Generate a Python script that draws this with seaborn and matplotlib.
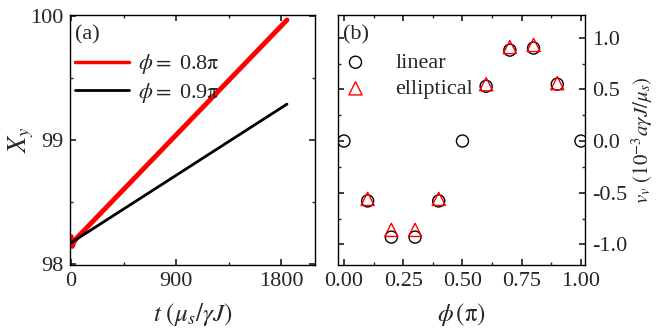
#!/usr/bin/env python3
import numpy as np
import pandas as pd
import seaborn as sns
import matplotlib.pyplot as plt
from matplotlib.ticker import MultipleLocator
from matplotlib.lines import Line2D

# panel (a): X_y vs t
t_08 = [0, 10, 25, 50, 1850]
xy_08 = [98.22, 98.14, 98.18, 98.21, 99.97]
t_09 = [0, 1850]
xy_09 = [98.17, 99.29]

# panel (b): velocity vs phi
phi_lin = [0.0, 0.1, 0.2, 0.3, 0.4, 0.5, 0.6, 0.7, 0.8, 0.9, 1.0]
v_lin = [0.0, -0.58, -0.93, -0.93, -0.58, 0.0, 0.53, 0.88, 0.90, 0.55, 0.0]
phi_ell = [0.1, 0.2, 0.3, 0.4, 0.6, 0.7, 0.8, 0.9]
v_ell = [-0.56, -0.86, -0.86, -0.56, 0.55, 0.91, 0.93, 0.56]

sns.set_theme(style="ticks")
plt.rcParams["font.family"] = ["Liberation Serif", "DejaVu Serif"]
plt.rcParams["mathtext.fontset"] = "stix"
plt.rcParams["axes.unicode_minus"] = False
plt.rcParams["font.size"] = 16

fig = plt.figure(figsize=(6.56, 3.33), dpi=100)
ax1 = fig.add_axes([70 / 656, 68 / 333, 245 / 656, 250 / 333])
ax2 = fig.add_axes([338 / 656, 68 / 333, 247 / 656, 250 / 333])

df08 = pd.DataFrame({"t": t_08, "x": xy_08})
df09 = pd.DataFrame({"t": t_09, "x": xy_09})
sns.lineplot(x="t", y="x", data=df08, ax=ax1, color="red", lw=3.5, sort=False)
sns.lineplot(x="t", y="x", data=df09, ax=ax1, color="black", lw=2)
ax1.set_xlim(-10, 2090)
ax1.set_ylim(97.99, 100.01)
ax1.xaxis.set_major_locator(MultipleLocator(900))
ax1.xaxis.set_minor_locator(MultipleLocator(450))
ax1.yaxis.set_major_locator(MultipleLocator(1))
ax1.yaxis.set_minor_locator(MultipleLocator(0.5))
ax1.set_xlabel(r"$t\ (\mu_s/\gamma J)$", fontsize=18, labelpad=7)
ax1.set_ylabel(r"$X_y$", fontsize=19)
ax1.yaxis.set_label_coords(-0.14, 0.5)
ax1.text(0.02, 0.96, "(a)", transform=ax1.transAxes, va="top", fontsize=16)
handles = [Line2D([], [], color="red", lw=2.5), Line2D([], [], color="black", lw=2)]
ax1.legend(handles, [r"$\phi =$ 0.8$\mathrm{\pi}$", r"$\phi =$ 0.9$\mathrm{\pi}$"],
           loc="upper left", bbox_to_anchor=(-0.06, 0.93), frameon=False,
           fontsize=16, handlelength=2.4, handletextpad=0.4, labelspacing=0.2)

dl = pd.DataFrame({"phi": phi_lin, "v": v_lin})
de = pd.DataFrame({"phi": phi_ell, "v": v_ell})
sns.scatterplot(x="phi", y="v", data=dl, ax=ax2, marker="o", s=75,
                facecolor="none", edgecolor="black", linewidth=1, label="linear")
sns.scatterplot(x="phi", y="v", data=de, ax=ax2, marker="^", s=90,
                facecolor="none", edgecolor="red", linewidth=1, label="elliptical")
ax2.set_xlim(-0.025, 1.017)
ax2.set_ylim(-1.2, 1.22)
ax2.xaxis.set_major_locator(MultipleLocator(0.25))
ax2.xaxis.set_minor_locator(MultipleLocator(0.125))
ax2.yaxis.set_major_locator(MultipleLocator(0.5))
ax2.yaxis.set_minor_locator(MultipleLocator(0.25))
ax2.xaxis.set_major_formatter(plt.FormatStrFormatter("%.2f"))
ax2.yaxis.set_major_formatter(plt.FormatStrFormatter("%.1f"))
ax2.yaxis.tick_right()
ax2.yaxis.set_label_position("right")
ax2.set_xlabel(r"$\phi\,(\mathrm{\pi})$", fontsize=18, labelpad=7)
ax2.set_ylabel(r"$v_v\ (10^{-3}a\gamma J/\mu_s)$", fontsize=15, labelpad=2)
ax2.text(0.02, 0.96, "(b)", transform=ax2.transAxes, va="top", fontsize=16)
ax2.legend(loc="upper left", bbox_to_anchor=(-0.1, 0.93), frameon=False,
           fontsize=16, handletextpad=0.8, labelspacing=0.25)

for ax in (ax1, ax2):
    ax.tick_params(which="both", direction="in", top=True, bottom=True,
                   left=True, right=True, labelsize=16)
    ax.tick_params(which="major", length=4, pad=5)
    ax.tick_params(which="minor", length=2.5)
    for s in ax.spines.values():
        s.set_linewidth(1)
        s.set_color("black")

fig.savefig("out.png", dpi=100)
